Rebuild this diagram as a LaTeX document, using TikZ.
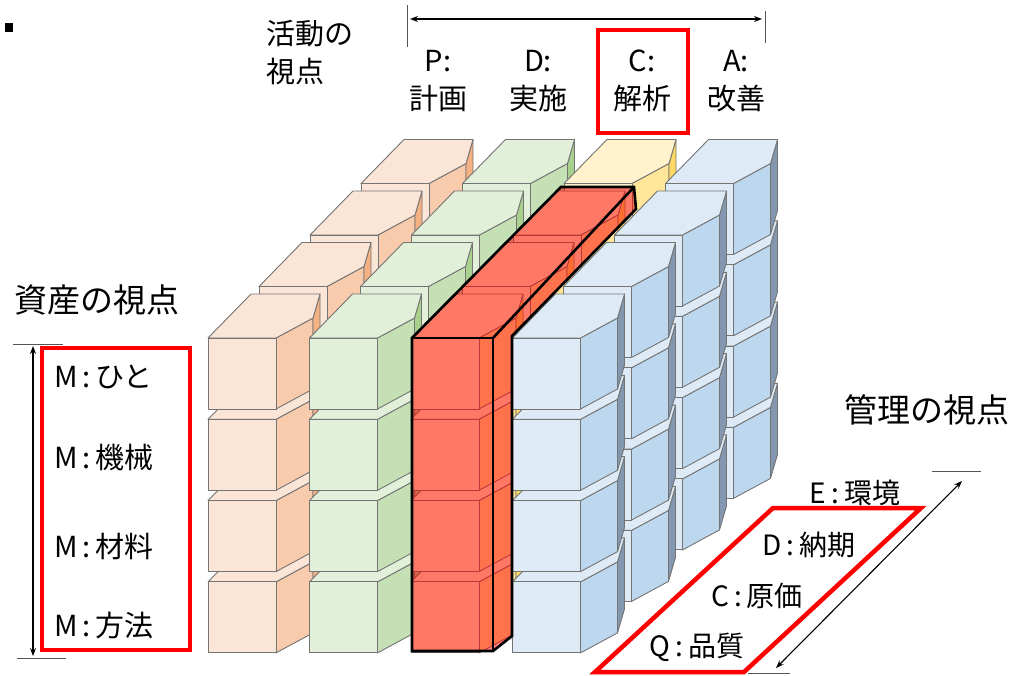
\documentclass[tikz,border=0pt]{standalone}
\usepackage{fontspec}
\setmainfont{Noto Sans CJK JP}
\usetikzlibrary{arrows.meta}
\definecolor{pf}{HTML}{FBE5D6}\definecolor{ps}{HTML}{F8CBAD}\definecolor{pt}{HTML}{F4B183}
\definecolor{gf}{HTML}{E2F0D9}\definecolor{gs}{HTML}{C5E0B4}\definecolor{gt}{HTML}{A9D18E}
\definecolor{yf}{HTML}{FFF2CC}\definecolor{ys}{HTML}{FFE699}\definecolor{yt}{HTML}{FFD966}
\definecolor{bf}{HTML}{DEEBF7}\definecolor{bs}{HTML}{BDD7EE}\definecolor{bt}{HTML}{8497B0}
\definecolor{edgegray}{HTML}{747474}
\definecolor{tickgray}{HTML}{555555}
\tikzset{
  cubeline/.style={draw=edgegray, line width=0.9pt, line join=round},
  lbl/.style={font=\fontsize{29}{38}\selectfont, inner sep=0pt, align=center},
  lblb/.style={font=\fontsize{33}{38}\selectfont, inner sep=0pt},
  lbls/.style={font=\fontsize{28}{34}\selectfont, inner sep=0pt},
  redframe/.style={draw=red, line width=4.5pt},
  tick/.style={draw=tickgray, line width=1pt},
  dimarrow/.style={draw=black, line width=1.1pt, {Stealth[length=8pt,width=6pt]}-{Stealth[length=8pt,width=6pt]}},
}
\newcommand\drawcube[5]{%
 \pgfmathsetmacro\cxa{#1}\pgfmathsetmacro\cya{#2}%
 \pgfmathsetmacro\cxb{#1+68}%
 \pgfmathsetmacro\cxc{#1+105}\pgfmathsetmacro\cyc{#2-20}%
 \filldraw[cubeline,fill=#4] (\cxb,\cya) -- ++(37,-20) -- ++(0,71) -- ++(-37,20) -- cycle;
 \filldraw[cubeline,fill=#5] (\cxc,\cyc) -- ++(7,-24) -- ++(0,71) -- ++(-7,24) -- cycle;
 \filldraw[cubeline,fill=#3] (\cxa,\cya) -- ++(43,-44) -- ++(69,0) -- ++(-7,24) -- ++(-37,20) -- cycle;
 \filldraw[cubeline,fill=#3] (\cxa,\cya) rectangle ++(68,71);
}
\begin{document}
\begin{tikzpicture}[x=1pt,y=-1pt]
\useasboundingbox (0,0) rectangle (1016,675);
\fill[white] (0,0) rectangle (1016,675);

% cubes: layers back to front, columns left to right, rows bottom to top
\foreach \k in {3,2,1,0} {
  \foreach \c/\fc/\sc/\tc in {0/pf/ps/pt,1/gf/gs/gt,2/yf/ys/yt,3/bf/bs/bt} {
    \foreach \r in {3,2,1,0} {
      \pgfmathsetmacro\X{208+101.5*\c+51*\k}
      \pgfmathsetmacro\Y{338+81.3*\r-51.5*\k}
      \drawcube{\X}{\Y}{\fc}{\sc}{\tc}
    }
  }
}

% red highlighted bar (C column)
\coordinate (b1) at (412,338);
\coordinate (b2) at (561,187);
\coordinate (b3) at (634,187);
\coordinate (b4) at (636,209);
\coordinate (b5) at (512,336);
\coordinate (b6) at (512,636);
\coordinate (b7) at (493,651);
\coordinate (b8) at (412,651);
\coordinate (b9) at (493,338);
\fill[red, fill opacity=0.5] (b1) -- (b2) -- (b3) -- (b4) -- (b5) -- (b6) -- (b7) -- (b8) -- cycle;
\draw[black, line width=2.6pt, line join=miter] (b1) -- (b2) -- (b3) -- (b4) -- (b5) -- (b6) -- (b7) -- (b8) -- cycle;
\draw[black, line width=2.6pt] (b8) -- (b1) -- (b9) -- (b7);
\draw[black, line width=2.6pt] (b9) -- (b3);

% bullet
\node[fill=black, minimum width=8pt, minimum height=9pt, inner sep=0pt] (bullet) at (9,27) {};

% activity viewpoint
\node[lbl, align=left, anchor=west] (act) at (266,53) {活動の\\視点};
\coordinate (tl1) at (407,5);  \coordinate (tl2) at (407,47);
\coordinate (tr1) at (765,11); \coordinate (tr2) at (765,43);
\draw[tick] (tl1) -- (tl2);
\draw[tick] (tr1) -- (tr2);
\coordinate (ta1) at (410,19); \coordinate (ta2) at (762,19);
\draw[dimarrow] (ta1) -- (ta2);
\node[lbl] (colP) at (438,81) {P:\\計画};
\node[lbl] (colD) at (538,81) {D:\\実施};
\node[lbl] (colC) at (642,81) {C:\\解析};
\node[lbl] (colA) at (736,81) {A:\\改善};
\draw[redframe] (598,30) rectangle (688,133);

% asset viewpoint
\node[lblb, anchor=west] (asset) at (14,300) {資産の視点};
\coordinate (lt1) at (13,344); \coordinate (lt2) at (63,344);
\coordinate (lb1) at (17,658); \coordinate (lb2) at (66,658);
\draw[tick] (lt1) -- (lt2);
\draw[tick] (lb1) -- (lb2);
\coordinate (la1) at (33,346); \coordinate (la2) at (33,656);
\draw[dimarrow] (la1) -- (la2);
\draw[redframe] (42,348) rectangle (190,650);
\node[lbl, anchor=west] (m1) at (54,377) {M\kern5pt:\kern5ptひと};
\node[lbl, anchor=west] (m2) at (54,457) {M\kern5pt:\kern5pt機械};
\node[lbl, anchor=west] (m3) at (54,546) {M\kern5pt:\kern5pt材料};
\node[lbl, anchor=west] (m4) at (54,625) {M\kern5pt:\kern5pt方法};

% management viewpoint
\node[lblb] (mgmt) at (927,410) {管理の視点};
\coordinate (rt1) at (932,471); \coordinate (rt2) at (981,471);
\coordinate (rb1) at (748,673); \coordinate (rb2) at (790,673);
\draw[tick] (rt1) -- (rt2);
\draw[tick] (rb1) -- (rb2);
\coordinate (ra1) at (962,481); \coordinate (ra2) at (776,668);
\draw[dimarrow] (ra1) -- (ra2);
\draw[redframe, line join=miter] (773,508) -- (921,508) -- (744,672) -- (595,672) -- cycle;
\node[lbls] (qe) at (855,493) {E\kern5pt:\kern5pt環境};
\node[lbls] (qd) at (809,545) {D\kern5pt:\kern5pt納期};
\node[lbls] (qc) at (757,596) {C\kern5pt:\kern5pt原価};
\node[lbls] (qq) at (697,647) {Q\kern5pt:\kern5pt品質};
\end{tikzpicture}
\end{document}
